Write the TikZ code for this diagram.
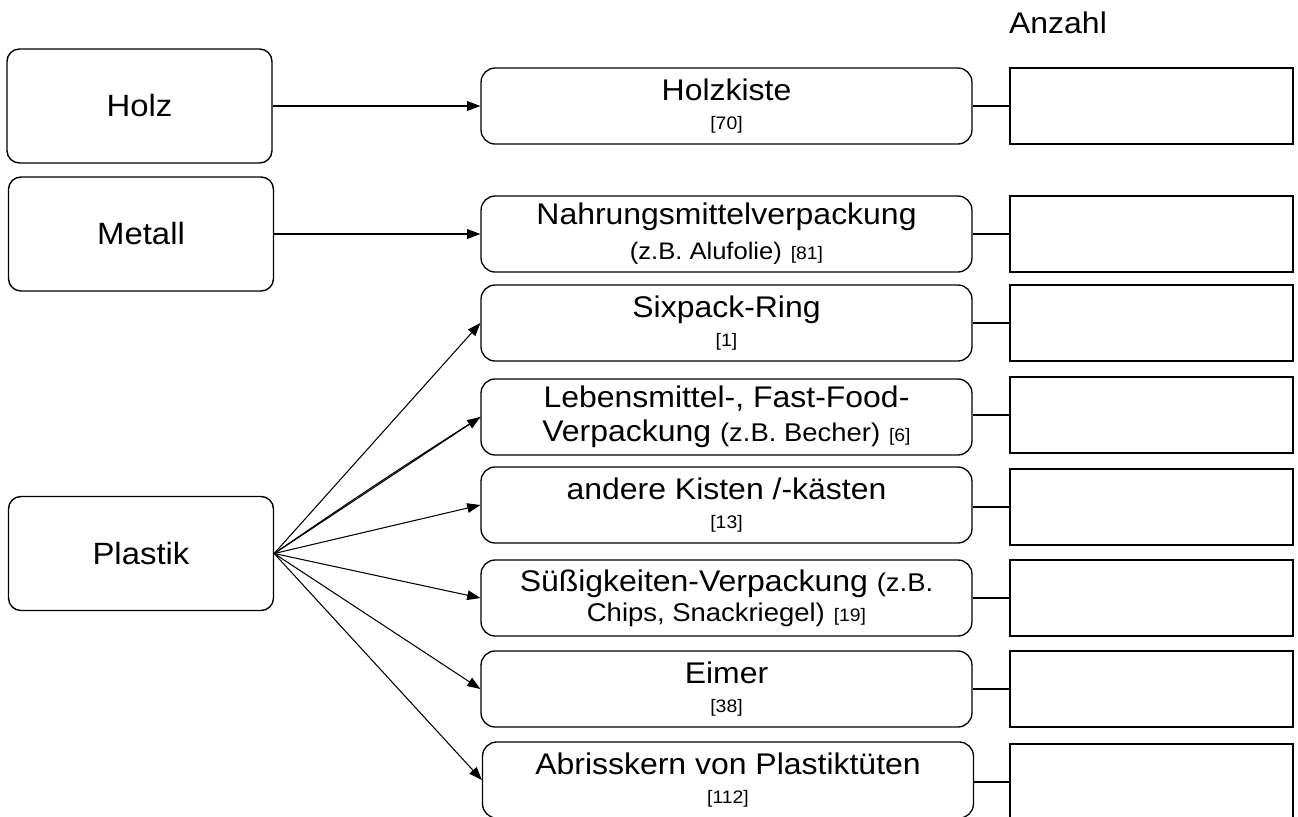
\documentclass[tikz,border=0pt]{standalone}
\usepackage{fontspec}
\setmainfont{Liberation Sans}[FakeStretch=1.07]
\usetikzlibrary{arrows.meta}

\tikzset{
  srcbox/.style={draw, line width=0.8pt, rounded corners=7pt,
    minimum width=5.3cm, minimum height=2.28cm,
    font=\fontsize{17.5}{16.5}\selectfont},
  itembox/.style={draw, line width=0.75pt, rounded corners=8pt,
    minimum width=9.82cm, minimum height=1.52cm, inner sep=0pt,
    align=center, font=\fontsize{17}{16.5}\selectfont},
  countbox/.style={draw, line width=0.8pt,
    minimum width=5.66cm, minimum height=1.52cm},
  link/.style={line width=0.6pt}
}
\newcommand{\hint}[1]{{\fontsize{14.6}{14}\selectfont #1}}
\newcommand{\hintsm}[1]{{\fontsize{13.6}{14}\selectfont #1}}
\newcommand{\nr}[1]{{\fontsize{10.3}{10}\selectfont [#1]}}

\begin{document}
\begin{tikzpicture}[x=0.02cm, y=-0.02cm, >={Triangle[length=7.5pt,width=5.5pt]}]
		\clip (0,0) rectangle (1298,816);
		%\draw[gray,step=100] (0,0) grid (1298,816);
		\node[srcbox] (holz) at (139.5,106) {Holz};
		\node[srcbox] (metall) at (141,234) {Metall};
		\node[srcbox] (plastik) at (141,553.5) {Plastik};
		\node[itembox] (kiste) at (726.5,106) {Holzkiste\\\nr{70}};
		\node[itembox] (nahrung) at (726.5,234) {Nahrungsmittelverpackung\\[3.5pt]\hintsm{(z.B. Alufolie)} \nr{81}};
		\node[itembox] (ring) at (726.5,323) {Sixpack-Ring\\\nr{1}};
		\node[itembox] (fastfood) at (726.5,417) {Lebensmittel-, Fast-Food-\\[3pt]Verpackung \hint{(z.B. Becher)} \nr{6}};
		\node[itembox] (kisten) at (726.5,505) {andere Kisten /-kästen\\\nr{13}};
		\node[itembox] (suess) at (726.5,598) {Süßigkeiten-Verpackung \hint{(z.B.}\\[0.5pt]\hint{Chips, Snackriegel)} \nr{19}};
		\node[itembox] (eimer) at (726.5,689) {Eimer\\\nr{38}};
		\node[itembox] (abriss) at (728,780) {Abrisskern von Plastiktüten\\\nr{112}};
		\node[font=\fontsize{17}{16.5}\selectfont] (anzahl) at (1058,23) {Anzahl};
		\foreach \i/\y in {1/106,2/234,3/323,4/415,5/507,6/598,7/689,8/782}
			\node[countbox] (n\i) at (1151.5,\y) {};
		\draw[link,->] (holz) -- (kiste);
		\draw[link,->] (metall) -- (nahrung);
		\foreach \t in {ring,fastfood,kisten,suess,eimer,abriss}
			\draw[link,->] (plastik.east) -- (\t.west);
		\draw[link] (plastik.east) to[bend left=1] (fastfood.west);
		\foreach \i/\t in {1/kiste,2/nahrung,3/ring,4/fastfood,5/kisten,6/suess,7/eimer,8/abriss}
			\draw[link] (n\i.west) -- (n\i.west -| \t.east);
	\end{tikzpicture}
\end{document}
